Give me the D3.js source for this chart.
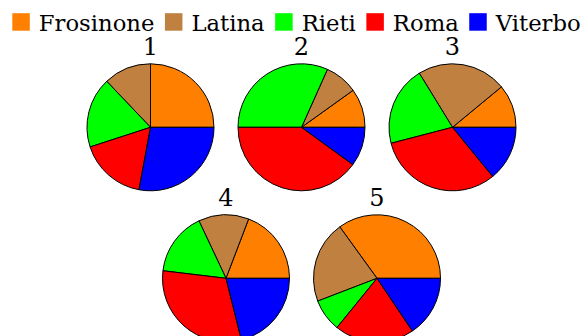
<!DOCTYPE html>
<html>
<head>
<meta charset="utf-8">
<script src="https://cdn.jsdelivr.net/npm/d3@7"></script>
<style>
  html, body { margin: 0; padding: 0; background: #fff; }
  svg { display: block; }
  text { font-family: "DejaVu Serif", serif; fill: #000; }
</style>
</head>
<body>
<svg id="chart" width="582" height="336"></svg>
<script>
// ---- data ----
const categories = ["Frosinone", "Latina", "Rieti", "Roma", "Viterbo"];
const colors = ["#ff8000", "#bf8040", "#00ff00", "#ff0000", "#0000ff"];
const pieTitles = ["1", "2", "3", "4", "5"];
const values1 = [25.0, 12.1, 17.9, 17.1, 27.9];
const values2 = [9.9, 8.4, 31.7, 40.0, 10.0];
const values3 = [11.0, 22.8, 20.3, 31.9, 14.1];
const values4 = [19.2, 12.8, 16.1, 30.8, 21.1];
const values5 = [35.0, 20.9, 8.3, 20.3, 15.6];
const seriesValues = [values1, values2, values3, values4, values5];

// ---- layout ----
const W = 582, H = 336;
const svg = d3.select("#chart");
const color = d3.scaleOrdinal().domain(categories).range(colors);

// legend: fit the row between x0 and x1
const legendX0 = 12.3, legendX1 = 581;
const baseY = 30.7, sq = 17.5, gapIn = 9, gapOut = 10.5;
const probeSize = 20;
const probe = svg.append("g");
let textTotal = 0;
categories.forEach(c => {
  const t = probe.append("text").attr("font-size", probeSize).text(c);
  textTotal += t.node().getComputedTextLength();
});
probe.remove();
const avail = (legendX1 - legendX0) - categories.length * (sq + gapIn) - (categories.length - 1) * gapOut;
const fontSize = probeSize * avail / textTotal;

const legend = svg.append("g");
let x = legendX0;
categories.forEach((c) => {
  legend.append("rect")
    .attr("x", x).attr("y", baseY - sq)
    .attr("width", sq).attr("height", sq)
    .attr("fill", color(c));
  x += sq + gapIn;
  const t = legend.append("text")
    .attr("x", x).attr("y", baseY)
    .attr("font-size", fontSize)
    .text(c);
  x += t.node().getComputedTextLength() + gapOut;
});

// pies
const R = 63.5;
const colStep = 151;
const rowY = [127.3, 278.3];
const positions = [
  {col: 0, row: 0}, {col: 1, row: 0}, {col: 2, row: 0},
  {col: 0.5, row: 1}, {col: 1.5, row: 1}
];
const xPos = d3.scaleLinear().domain([0, 2]).range([150.5, 150.5 + 2 * colStep]);

const pie = d3.pie()
  .sort(null)
  .value(d => d.v)
  .startAngle(Math.PI / 2)
  .endAngle(Math.PI / 2 - 2 * Math.PI);
const arc = d3.arc().innerRadius(0).outerRadius(R);

seriesValues.forEach((vals, i) => {
  const p = positions[i];
  const cx = xPos(p.col), cy = rowY[p.row];
  const g = svg.append("g").attr("transform", `translate(${cx},${cy})`);
  const data = vals.map((v, k) => ({c: categories[k], v}));
  g.selectAll("path")
    .data(pie(data))
    .join("path")
    .attr("d", arc)
    .attr("fill", d => color(d.data.c))
    .attr("stroke", "#000")
    .attr("stroke-width", 1)
    .attr("stroke-linejoin", "round");
  svg.append("text")
    .attr("x", cx).attr("y", cy - R - 8.5)
    .attr("text-anchor", "middle")
    .attr("font-size", 24)
    .text(pieTitles[i]);
});
</script>
</body>
</html>
